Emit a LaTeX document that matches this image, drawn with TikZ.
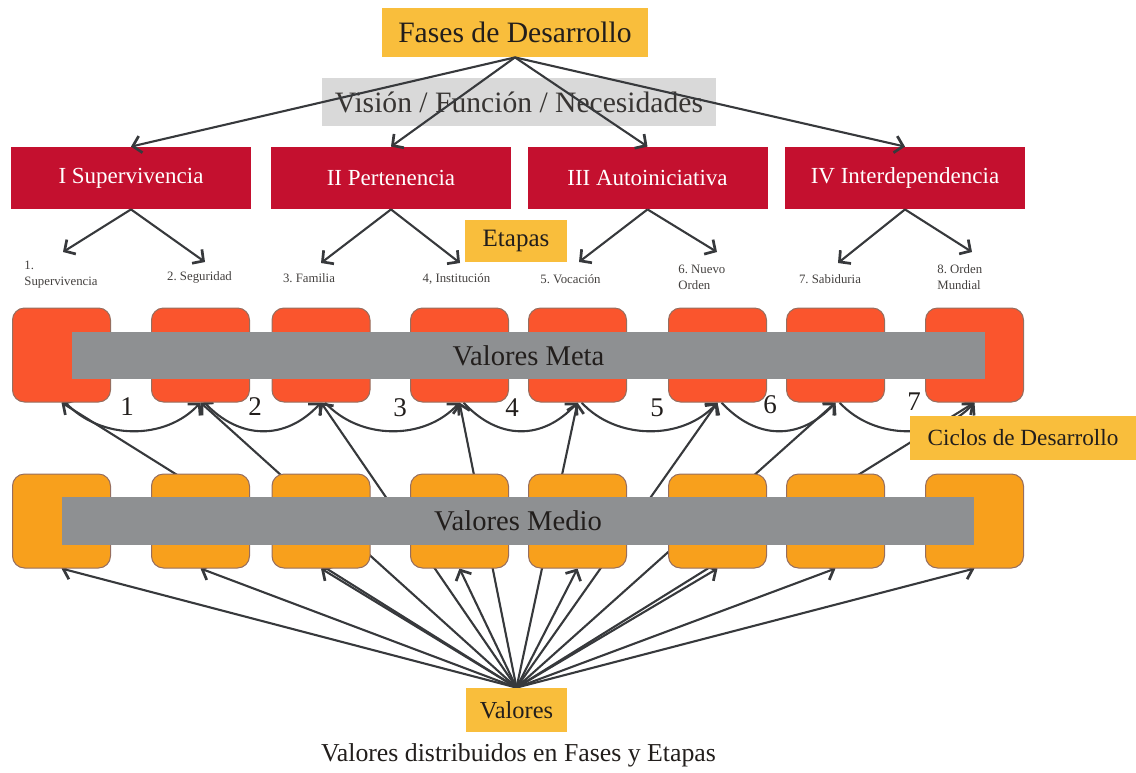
\documentclass[tikz,border=0pt]{standalone}
\usepackage{fontspec}
\setmainfont{Liberation Serif}
\usetikzlibrary{arrows.meta,backgrounds}
\definecolor{ybox}{RGB}{249,190,60}
\definecolor{vgray}{RGB}{217,217,217}
\definecolor{phred}{RGB}{196,16,47}
\definecolor{metac}{RGB}{250,85,45}
\definecolor{medioc}{RGB}{248,160,28}
\definecolor{barc}{RGB}{142,144,146}
\definecolor{edgec}{RGB}{150,110,95}
\definecolor{linec}{RGB}{55,57,60}
\definecolor{txt}{RGB}{34,30,28}
\newcommand{\myfs}[2][1.2]{\fontsize{#2}{#1\dimexpr #2pt\relax}\selectfont}
\frenchspacing
\begin{document}
\begin{tikzpicture}[x=0.5pt,y=-0.5pt,
  ybx/.style={fill=ybox, inner sep=0, text=txt},
  phase/.style={fill=phred, minimum width=120pt, minimum height=31pt, inner sep=0, text=white, font=\myfs{11.5}},
  rbox/.style={rounded corners=6pt, draw=edgec, line width=0.5pt, minimum width=49pt, minimum height=47pt, inner sep=0},
  metabox/.style={rbox, fill=metac},
  mediobox/.style={rbox, fill=medioc},
  bar/.style={fill=barc, inner sep=0, minimum height=23.5pt, text=txt, font=\myfs{14.3}},
  stage/.style={font=\fontsize{6.4}{8}\selectfont, text=txt!85, inner sep=0, align=left},
  arr/.style={draw=linec, line width=1.05pt, -{Straight Barb[length=4pt,width=8.5pt,line width=1.35pt]}},
  num/.style={font=\myfs{13.5}, text=txt, inner sep=0},
]
\useasboundingbox (0,0) rectangle (1136,772);

% top
\node[fill=vgray, inner sep=0, minimum width=197pt, minimum height=24pt, font=\myfs{14.8}, text=txt!90] (vision) at (519,102) {Visión / Función / Necesidades};
\node[ybx, minimum width=133pt, minimum height=24.5pt, font=\myfs{14.8}] (fases) at (515,32.5) {Fases de Desarrollo};

\node[phase] (p1) at (131,178) {I Supervivencia};
\node[phase] (p2) at (391,178) {II Pertenencia};
\node[phase] (p3) at (647.5,178) {III Autoiniciativa};
\node[phase] (p4) at (905,178) {IV Interdependencia};

\draw[arr] (fases.south) -- (p1.north);
\draw[arr] (fases.south) -- (p2.north);
\draw[arr] (fases.south) -- (p3.north);
\draw[arr] (fases.south) -- (p4.north);

\node[ybx, minimum width=51pt, minimum height=21pt, font=\myfs{12.5}] (etapas) at (516,241) {Etapas};

\coordinate (s1) at (63,252);
\coordinate (s2) at (205,262);
\coordinate (s3) at (321,263);
\coordinate (s4) at (460,263);
\coordinate (s5) at (579,262);
\coordinate (s6) at (717,252);
\coordinate (s7) at (838,263);
\coordinate (s8) at (972,252);
\draw[arr] (p1.south) -- (s1);
\draw[arr] (p1.south) -- (s2);
\draw[arr] (p2.south) -- (s3);
\draw[arr] (p2.south) -- (s4);
\draw[arr] (p3.south) -- (s5);
\draw[arr] (p3.south) -- (s6);
\draw[arr] (p4.south) -- (s7);
\draw[arr] (p4.south) -- (s8);

\node[stage, anchor=west] (l1) at (24,275) {1.\\Supervivencia};
\node[stage] (l2) at (199.5,277) {2. Seguridad};
\node[stage] (l3) at (309,278) {3. Familia};
\node[stage] (l4) at (456.5,279) {4, Institución};
\node[stage] (l5) at (570.5,279) {5. Vocación};
\node[stage, anchor=west] (l6) at (678,277) {6. Nuevo\\Orden};
\node[stage] (l7) at (830,279) {7. Sabiduria};
\node[stage, anchor=west] (l8) at (937,277) {8. Orden\\Mundial};

% meta row
\foreach \i/\x in {1/61.5,2/200.5,3/321,4/459.5,5/577.5,6/717.5,7/835.5,8/974.5}{
  \node[metabox] (m\i) at (\x,355) {};
}
\node[bar, minimum width=456.5pt] (mbar) at (528.5,355.5) {Valores Meta};

% medio row
\foreach \i/\x in {1/61.5,2/200.5,3/321,4/459.5,5/577.5,6/717.5,7/835.5,8/974.5}{
  \node[mediobox] (d\i) at (\x,521) {};
}
\node[bar, minimum width=456pt, minimum height=24pt] (dbar) at (518,521) {Valores Medio};

\node[ybx, minimum width=50.5pt, minimum height=22pt, font=\myfs{12.2}] (val) at (516.5,710) {Valores};
\node[ybx, minimum width=113pt, minimum height=22pt, font=\myfs{11.6}] (ciclos) at (1023,438) {Ciclos de Desarrollo};
\node[font=\myfs{12.9}, text=txt] (cap) at (518.5,755) {Valores distribuidos en Fases y Etapas};

\node[num] (n1) at (127,407) {1};
\node[num] (n2) at (255,407) {2};
\node[num] (n3) at (400,408) {3};
\node[num] (n4) at (512,408) {4};
\node[num] (n5) at (657,408) {5};
\node[num] (n6) at (770,405) {6};
\node[num] (n7) at (914,402) {7};

\begin{scope}[on background layer]
  \foreach \i in {1,...,8}{
    \draw[arr] (val.north) -- (m\i.south);
    \draw[arr] (val.north) -- (d\i.south);
  }
  \foreach \i/\j in {1/2,2/3,3/4,4/5,5/6,6/7,7/8}{
    \draw[arr] ([xshift=2pt]m\i.south) .. controls +(35,38) and +(-35,38) .. (m\j.south);
  }
\end{scope}
\end{tikzpicture}
\end{document}
